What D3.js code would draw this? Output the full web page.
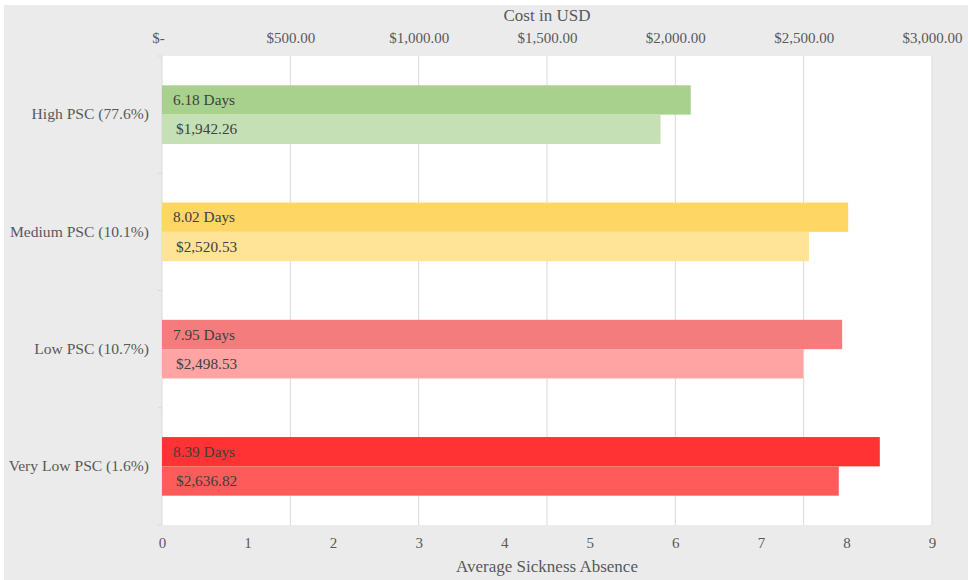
<!DOCTYPE html>
<html>
<head>
<meta charset="utf-8">
<script src="https://cdn.jsdelivr.net/npm/d3@7"></script>
<style>
  html, body { margin: 0; padding: 0; background: #fff; }
  svg { display: block; }
  text { font-family: "Liberation Serif", "Times New Roman", serif; }
</style>
</head>
<body>
<svg width="968" height="580"></svg>
<script>
// data
var categories = ["High PSC (77.6%)", "Medium PSC (10.1%)", "Low PSC (10.7%)", "Very Low PSC (1.6%)"];
var days = [6.18, 8.02, 7.95, 8.39];
var costs = [1942.26, 2520.53, 2498.53, 2636.82];
var dayColors = ["#a9d18e", "#fdd663", "#f47c7c", "#ff3333"];
var costColors = ["#c5e0b4", "#ffe396", "#ffa3a3", "#ff5b5b"];
var dayTicks = [0, 1, 2, 3, 4, 5, 6, 7, 8, 9];
var costTicks = [0, 500, 1000, 1500, 2000, 2500, 3000];

var svg = d3.select("svg");
// plot area edges (note: "top" is taken by window.top)
var pL = 162, pR = 932, pT = 56, pB = 525;

// gray chart area, white hairline border top/left
svg.append("rect").attr("x", 4).attr("y", 5).attr("width", 964).attr("height", 575).attr("fill", "#ebebeb");
svg.append("rect").attr("x", pL).attr("y", pT).attr("width", pR - pL).attr("height", pB - pT).attr("fill", "#fff");

var xDays = d3.scaleLinear().domain([0, 9]).range([pL, pR]);
var xCost = d3.scaleLinear().domain([0, 3000]).range([pL, pR]);
var y = d3.scaleBand().domain(categories).range([pT, pB]).paddingInner(0.5).paddingOuter(0.25);
var bh = y.bandwidth() / 2;

// gridlines follow the cost axis
svg.append("g").selectAll("line").data(costTicks.slice(1)).join("line")
  .attr("x1", d => xCost(d)).attr("x2", d => xCost(d))
  .attr("y1", pT).attr("y2", pB)
  .attr("stroke", "#d9d9d9").attr("stroke-width", 1);

// category axis line + ticks between categories
svg.append("line").attr("x1", pL).attr("x2", pL).attr("y1", pT).attr("y2", pB)
  .attr("stroke", "#d9d9d9");
var bounds = d3.range(categories.length + 1).map(i => pT + i * (pB - pT) / categories.length);
svg.append("g").selectAll("line").data(bounds).join("line")
  .attr("x1", pL - 4).attr("x2", pL).attr("y1", d => d).attr("y2", d => d)
  .attr("stroke", "#d9d9d9");

svg.append("g").selectAll("text").data(categories).join("text")
  .attr("x", 149).attr("y", d => y(d) + y.bandwidth() / 2)
  .attr("dy", "0.3em").attr("text-anchor", "end")
  .attr("font-size", 15.6).attr("fill", "#595959")
  .text(d => d);

// bars
var bars = svg.append("g");
bars.selectAll("rect.days").data(categories).join("rect")
  .attr("class", "days")
  .attr("x", pL).attr("y", d => y(d))
  .attr("width", (d, i) => xDays(days[i]) - pL).attr("height", bh)
  .attr("fill", (d, i) => dayColors[i]);
bars.selectAll("rect.cost").data(categories).join("rect")
  .attr("class", "cost")
  .attr("x", pL).attr("y", d => y(d) + bh)
  .attr("width", (d, i) => xCost(costs[i]) - pL).attr("height", bh)
  .attr("fill", (d, i) => costColors[i]);

var fmtCost = d3.format("$,.2f");
bars.selectAll("text.days").data(categories).join("text")
  .attr("class", "days")
  .attr("x", pL + 11).attr("y", d => y(d) + bh / 2)
  .attr("dy", "0.33em").attr("font-size", 15.3).attr("fill", "#404040")
  .text((d, i) => days[i].toFixed(2) + " Days");
bars.selectAll("text.cost").data(categories).join("text")
  .attr("class", "cost")
  .attr("x", pL + 14).attr("y", d => y(d) + bh * 1.5)
  .attr("dy", "0.33em").attr("font-size", 15.3).attr("fill", "#404040")
  .text((d, i) => fmtCost(costs[i]));

// top axis: cost
var topAxis = svg.append("g").attr("transform", "translate(0," + (pT - 13) + ")")
  .call(d3.axisTop(xCost).tickValues(costTicks).tickSize(0).tickPadding(0)
    .tickFormat(d => d === 0 ? "$-" : fmtCost(d)));
topAxis.select(".domain").remove();
topAxis.selectAll("text").attr("font-size", 15).attr("fill", "#595959")
  .attr("font-family", "Liberation Serif, serif").attr("dy", 0);
topAxis.selectAll("text").filter(d => d === 0).attr("dx", -4);

// bottom axis: days
var botAxis = svg.append("g").attr("transform", "translate(0," + (pB + 23) + ")")
  .call(d3.axisBottom(xDays).tickValues(dayTicks).tickSize(0).tickPadding(0));
botAxis.select(".domain").remove();
botAxis.selectAll("text").attr("font-size", 15).attr("fill", "#595959")
  .attr("font-family", "Liberation Serif, serif").attr("dy", 0);

// axis titles
svg.append("text").attr("x", (pL + pR) / 2).attr("y", 21)
  .attr("text-anchor", "middle").attr("font-size", 17).attr("fill", "#595959")
  .text("Cost in USD");
svg.append("text").attr("x", (pL + pR) / 2).attr("y", 572)
  .attr("text-anchor", "middle").attr("font-size", 17).attr("fill", "#595959")
  .text("Average Sickness Absence");
</script>
</body>
</html>
